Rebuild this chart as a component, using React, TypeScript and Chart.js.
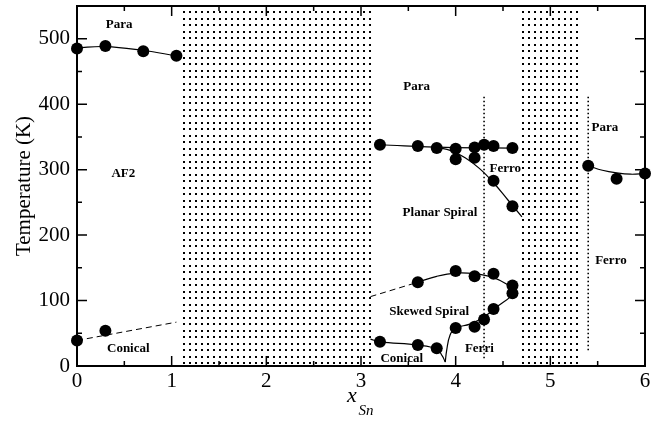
import React, { useEffect, useRef } from "react";
import { Chart, registerables } from "chart.js";

Chart.register(...registerables);

// ---- data ----
const xTickValues = [0, 1, 2, 3, 4, 5, 6];
const yTickValues = [0, 100, 200, 300, 400, 500];
const xMinorValues = [0.5, 1.5, 2.5, 3.5, 4.5, 5.5];
const yMinorValues = [50, 150, 250, 350, 450];

// points
const paraAF2X = [0, 0.3, 0.7, 1.05];
const paraAF2T = [485, 489, 481, 474];
const conicalLeftX = [0, 0.3];
const conicalLeftT = [39, 54];
const midParaX = [3.2, 3.6, 3.8, 4.0, 4.2, 4.3, 4.4, 4.6];
const midParaT = [338, 336, 333, 332, 334, 338, 336, 333];
const ferroLowX = [4.0, 4.2, 4.4, 4.6];
const ferroLowT = [316, 318, 283, 244];
const skewUpX = [3.6, 4.0, 4.2, 4.4, 4.6];
const skewUpT = [128, 145, 137, 141, 123];
const ferriX = [4.0, 4.2, 4.3, 4.4, 4.6];
const ferriT = [58, 60, 71, 87, 111];
const conicalMidX = [3.2, 3.6, 3.8];
const conicalMidT = [37, 32, 27];
const rightX = [5.4, 5.7, 6.0];
const rightT = [306, 286, 294];

// boundary curves
const lineAF2X = [0, 0.3, 0.7, 1.05];
const lineAF2T = [486, 488, 482, 474];
const dashLeftX = [0, 1.05];
const dashLeftT = [39, 67];
const lineMidParaX = [3.2, 3.9, 4.6];
const lineMidParaT = [338, 334, 333];
const linePlanarX = [3.8, 3.95, 4.1, 4.25, 4.4, 4.55, 4.7];
const linePlanarT = [334, 329, 318, 302, 280, 254, 228];
const dashSkewX = [3.1, 3.6];
const dashSkewT = [106, 128];
const lineSkewX = [3.6, 3.8, 4.0, 4.2, 4.4, 4.55, 4.62, 4.58, 4.45, 4.3, 4.15, 4.0, 3.94, 3.905, 3.89];
const lineSkewT = [128, 137, 142, 141, 135, 124, 116, 106, 92, 75, 64, 58, 47, 24, 6];
const lineConicalX = [3.1, 3.2, 3.6, 3.8, 3.86, 3.89];
const lineConicalT = [41, 37, 32, 26, 15, 6];
const lineRightX = [5.4, 5.55, 5.7, 5.85, 6.0];
const lineRightT = [306, 299, 295, 293, 294];
const vline1X = [4.3, 4.3];
const vline1T = [12, 412];
const vline2X = [5.4, 5.4];
const vline2T = [24, 412];

// hatched (dotted) composition ranges
const dotRegionStart = [1.12, 4.7];
const dotRegionEnd = [3.09, 5.33];

// region labels
const labelText = ["Para", "AF2", "Conical", "Para", "Ferro", "Planar Spiral", "Skewed Spiral", "Ferri", "Conical", "Para", "Ferro"];
const labelX = [0.446, 0.489, 0.542, 3.588, 4.524, 3.834, 3.72, 4.25, 3.43, 5.577, 5.64];
const labelT = [521, 294, 27, 427, 302, 234, 83, 26, 11, 364, 161];

const pts = (xs: number[], ys: number[]) => xs.map((x, i) => ({ x, y: ys[i] }));

const SERIF = "'Liberation Serif', 'Times New Roman', serif";

const decorPlugin = {
  id: "decor",
  beforeDatasetsDraw(chart: any) {
    const { ctx, chartArea: a, scales } = chart;
    const xs = scales.x;
    ctx.save();
    ctx.fillStyle = "#000";
    for (let r = 0; r < dotRegionStart.length; r++) {
      const x0 = xs.getPixelForValue(dotRegionStart[r]);
      const x1 = xs.getPixelForValue(dotRegionEnd[r]);
      for (let px = x0; px <= x1; px += 6) {
        for (let py = a.top + 5; py <= a.bottom - 2; py += 6.5) {
          ctx.fillRect(Math.round(px), Math.round(py), 2, 2);
        }
      }
    }
    ctx.restore();
  },
  afterDatasetsDraw(chart: any) {
    const { ctx, chartArea: a, scales } = chart;
    const xs = scales.x;
    const ys = scales.y;
    ctx.save();
    // labels
    ctx.fillStyle = "#000";
    ctx.font = `bold 13px ${SERIF}`;
    ctx.textAlign = "center";
    ctx.textBaseline = "middle";
    labelText.forEach((t, i) => {
      ctx.fillText(t, xs.getPixelForValue(labelX[i]), ys.getPixelForValue(labelT[i]));
    });
    // frame
    ctx.strokeStyle = "#000";
    ctx.lineWidth = 2;
    ctx.strokeRect(a.left, a.top, a.right - a.left, a.bottom - a.top);
    // ticks
    ctx.lineWidth = 1.5;
    ctx.beginPath();
    const xt = (v: number, len: number) => {
      const p = xs.getPixelForValue(v);
      ctx.moveTo(p, a.bottom);
      ctx.lineTo(p, a.bottom - len);
      ctx.moveTo(p, a.top);
      ctx.lineTo(p, a.top + len);
    };
    const yt = (v: number, len: number) => {
      const p = ys.getPixelForValue(v);
      ctx.moveTo(a.left, p);
      ctx.lineTo(a.left + len, p);
      ctx.moveTo(a.right, p);
      ctx.lineTo(a.right - len, p);
    };
    xTickValues.forEach((v) => xt(v, 10));
    xMinorValues.forEach((v) => xt(v, 5));
    yTickValues.forEach((v) => yt(v, 10));
    yMinorValues.forEach((v) => yt(v, 5));
    ctx.stroke();
    // x axis title  x_Sn
    ctx.textAlign = "center";
    ctx.textBaseline = "alphabetic";
    ctx.font = `italic 22px ${SERIF}`;
    const cx = (a.left + a.right) / 2;
    ctx.fillText("x", cx - 9, 402);
    ctx.font = `italic 15px ${SERIF}`;
    ctx.fillText("Sn", cx + 5, 415);
    ctx.restore();
  },
};

export default function App() {
  const ref = useRef<HTMLCanvasElement | null>(null);
  useEffect(() => {
    if (!ref.current) return;
    const black = "#000";
    const line = (xs: number[], ys: number[], extra: any = {}) => ({
      type: "scatter",
      data: pts(xs, ys),
      showLine: true,
      borderColor: black,
      borderWidth: 1.2,
      pointRadius: 0,
      pointHoverRadius: 0,
      tension: 0.4,
      fill: false,
      clip: false,
      ...extra,
    });
    const dots = (xs: number[], ys: number[]) => ({
      type: "scatter",
      data: pts(xs, ys),
      showLine: false,
      backgroundColor: black,
      borderColor: black,
      borderWidth: 0,
      pointRadius: 6,
      clip: false,
    });
    const chart = new Chart(ref.current, {
      type: "scatter",
      data: {
        datasets: [
          line(vline1X, vline1T, { borderDash: [1.5, 2.5], borderWidth: 1.6, tension: 0 }),
          line(vline2X, vline2T, { borderDash: [1.5, 2.5], borderWidth: 1.6, tension: 0 }),
          line(lineAF2X, lineAF2T),
          line(dashLeftX, dashLeftT, { borderDash: [6, 4], borderWidth: 1, tension: 0 }),
          line(lineMidParaX, lineMidParaT),
          line(linePlanarX, linePlanarT),
          line(dashSkewX, dashSkewT, { borderDash: [6, 4], borderWidth: 1, tension: 0 }),
          line(lineSkewX, lineSkewT),
          line(lineConicalX, lineConicalT),
          line(lineRightX, lineRightT),
          dots(paraAF2X, paraAF2T),
          dots(conicalLeftX, conicalLeftT),
          dots(midParaX, midParaT),
          dots(ferroLowX, ferroLowT),
          dots(skewUpX, skewUpT),
          dots(ferriX, ferriT),
          dots(conicalMidX, conicalMidT),
          dots(rightX, rightT),
        ] as any,
      },
      options: {
        animation: false,
        responsive: false,
        devicePixelRatio: 1,
        layout: { padding: { top: 5, right: 16, left: 0, bottom: 0 } },
        plugins: { legend: { display: false }, tooltip: { enabled: false } },
        events: [],
        scales: {
          x: {
            type: "linear",
            min: 0,
            max: 6,
            grid: { display: false, drawTicks: false },
            border: { display: false },
            afterBuildTicks: (s: any) => {
              s.ticks = xTickValues.map((v) => ({ value: v }));
            },
            afterFit: (s: any) => {
              s.height = 55;
              s.paddingLeft = 0;
              s.paddingRight = 0;
            },
            ticks: {
              color: black,
              padding: 3,
              maxRotation: 0,
              font: { family: SERIF, size: 21 },
            },
          },
          y: {
            type: "linear",
            min: 0,
            max: 550,
            grid: { display: false, drawTicks: false },
            border: { display: false },
            afterBuildTicks: (s: any) => {
              s.ticks = yTickValues.map((v) => ({ value: v }));
            },
            afterFit: (s: any) => {
              s.width = 77;
              s.paddingTop = 0;
              s.paddingBottom = 0;
            },
            ticks: {
              color: black,
              padding: 7,
              font: { family: SERIF, size: 21 },
            },
            title: {
              display: true,
              text: "Temperature (K)",
              color: black,
              padding: { top: 12, bottom: 0 },
              font: { family: SERIF, size: 21 },
            },
          },
        },
      } as any,
      plugins: [decorPlugin],
    });
    return () => chart.destroy();
  }, []);
  return (
    <div style={{ position: "fixed", left: 0, top: 0, width: 661, height: 421, background: "#fff" }}>
      <canvas ref={ref} width={661} height={421} style={{ display: "block" }} />
    </div>
  );
}
